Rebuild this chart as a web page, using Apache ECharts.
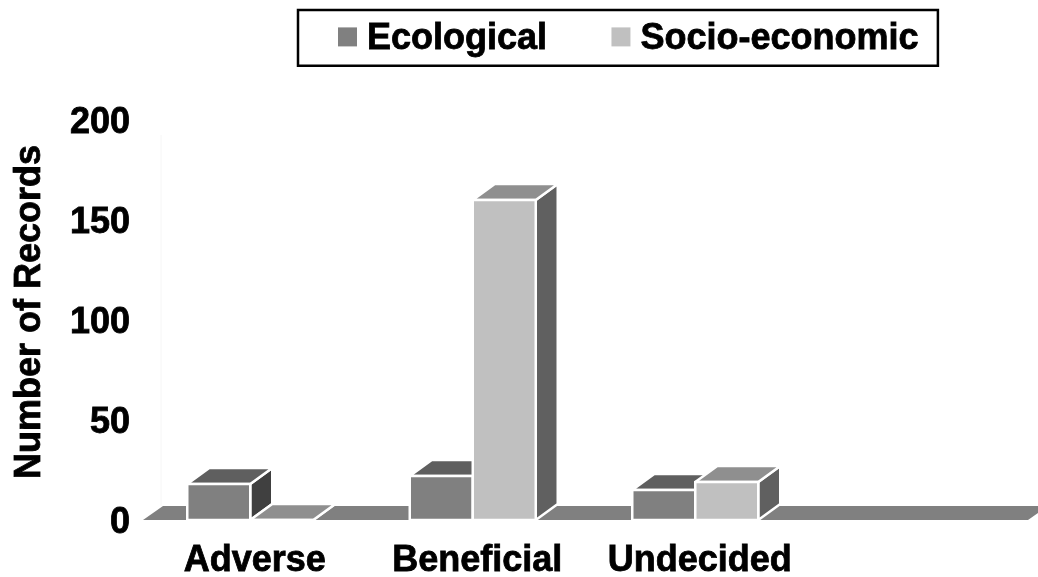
<!DOCTYPE html>
<html>
<head>
<meta charset="utf-8">
<style>html,body{margin:0;padding:0;background:#fff}#chart{width:1038px;height:577px}</style>
<script src="https://cdn.jsdelivr.net/npm/echarts@6/dist/echarts.min.js"></script>
</head>
<body>
<div id="chart"></div>
<script>
// Records per outcome class, split by type of effect
const categories = ['Adverse', 'Beneficial', 'Undecided', ''];
const ecological = [18, 22, 15, null];
const socioEconomic = [0, 160, 19, null];
const yTicks = { min: 0, max: 200, interval: 50 };

const FONT = '"Liberation Sans", Arial, sans-serif';
const DEPTH_X = 22, DEPTH_Y = 16, BAR_W = 63;
const FLOOR_DEPTH_X = 20, FLOOR_DEPTH_Y = 14;
// Bold black text with a slight outline to thicken the strokes
const heavy = {
  color: '#000', fontFamily: FONT, fontWeight: 'bold', fontSize: 36,
  textBorderColor: '#000', textBorderWidth: 0.8
};

// Pseudo-3D box: front face anchored on the axis, top and side faces pushed back
function boxRenderer(shift, colors) {
  return function (params, api) {
    const v = api.value(1);
    if (v == null || isNaN(v)) return null;
    const base = api.coord([api.value(0), 0]);
    const top = api.coord([api.value(0), v]);
    const x0 = base[0] + shift, x1 = x0 + BAR_W, yb = base[1], yt = top[1];
    const edge = { stroke: '#fff', lineWidth: 2.5, lineJoin: 'round' };
    const poly = (points, fill) => ({
      type: 'polygon', shape: { points }, style: Object.assign({ fill }, edge)
    });
    return {
      type: 'group',
      children: [
        poly([[x1, yb], [x1 + DEPTH_X, yb - DEPTH_Y], [x1 + DEPTH_X, yt - DEPTH_Y], [x1, yt]],
          v > 0 ? colors.side : colors.top),
        poly([[x0, yt], [x0 + DEPTH_X, yt - DEPTH_Y], [x1 + DEPTH_X, yt - DEPTH_Y], [x1, yt]], colors.top),
        poly([[x0, yb], [x1, yb], [x1, yt], [x0, yt]], colors.front)
      ]
    };
  };
}

// Floor slab running under the whole category axis
function floorRenderer(params, api) {
  const c = params.coordSys;
  const y = c.y + c.height, x0 = c.x + 4, x1 = c.x + c.width - 1;
  return {
    type: 'group',
    children: [
      {
        type: 'line',
        shape: { x1: x0 + FLOOR_DEPTH_X - 2, y1: y - FLOOR_DEPTH_Y, x2: x0 + FLOOR_DEPTH_X - 2, y2: c.y + 15 },
        style: { stroke: '#f6f6f6', lineWidth: 1 }
      },
      {
        type: 'polygon',
        shape: { points: [[x0, y], [x1, y], [x1 + FLOOR_DEPTH_X, y - FLOOR_DEPTH_Y], [x0 + FLOOR_DEPTH_X, y - FLOOR_DEPTH_Y]] },
        style: { fill: '#808080' }
      }
    ]
  };
}

const toPairs = values => values.map((v, i) => [i, v]);

const chart = echarts.init(document.getElementById('chart'), null, { renderer: 'canvas' });
chart.setOption({
  animation: false,
  backgroundColor: '#fff',
  textStyle: { fontFamily: FONT },
  legend: {
    data: ['Ecological', 'Socio-economic'],
    left: 298,
    top: 10,
    padding: [11, 19, 8, 40],
    borderColor: '#000',
    borderWidth: 2.5,
    itemWidth: 19,
    itemHeight: 19,
    itemGap: 64,
    icon: 'rect',
    formatter: '{t|{name}}',
    textStyle: Object.assign({}, heavy, {
      rich: { t: Object.assign({}, heavy, { padding: [5, 0, 0, 5] }) }
    })
  },
  grid: { left: 139, top: 120, width: 890, height: 400, outerBoundsMode: 'none' },
  xAxis: {
    type: 'category',
    data: categories,
    axisLine: { show: false },
    axisTick: { show: false },
    splitLine: { show: false },
    axisLabel: Object.assign({}, heavy, { margin: 23, padding: [0, 0, 0, 9], interval: 0 })
  },
  yAxis: {
    type: 'value',
    min: yTicks.min,
    max: yTicks.max,
    interval: yTicks.interval,
    name: 'Number of Records',
    nameLocation: 'middle',
    nameGap: 91,
    nameRotate: 90,
    nameTextStyle: Object.assign({}, heavy, { padding: [0, 0, 0, 16] }),
    axisLine: { show: false },
    axisTick: { show: false },
    splitLine: { show: false },
    axisLabel: {
      margin: 9,
      formatter: '{v|{value}}',
      rich: { v: Object.assign({}, heavy, { padding: [6, 0, 0, 0] }) }
    }
  },
  series: [
    { type: 'custom', name: 'floor', silent: true, data: [[0, 0]], encode: { x: 0, y: 1 }, renderItem: floorRenderer },
    {
      type: 'custom', name: 'Ecological', itemStyle: { color: '#808080' },
      data: toPairs(ecological), encode: { x: 0, y: 1 },
      renderItem: boxRenderer(-63, { front: '#808080', top: '#5f5f5f', side: '#404040' })
    },
    {
      type: 'custom', name: 'Socio-economic', itemStyle: { color: '#c0c0c0' },
      data: toPairs(socioEconomic), encode: { x: 0, y: 1 },
      renderItem: boxRenderer(0, { front: '#c0c0c0', top: '#8f8f8f', side: '#606060' })
    }
  ]
});
</script>
</body>
</html>
